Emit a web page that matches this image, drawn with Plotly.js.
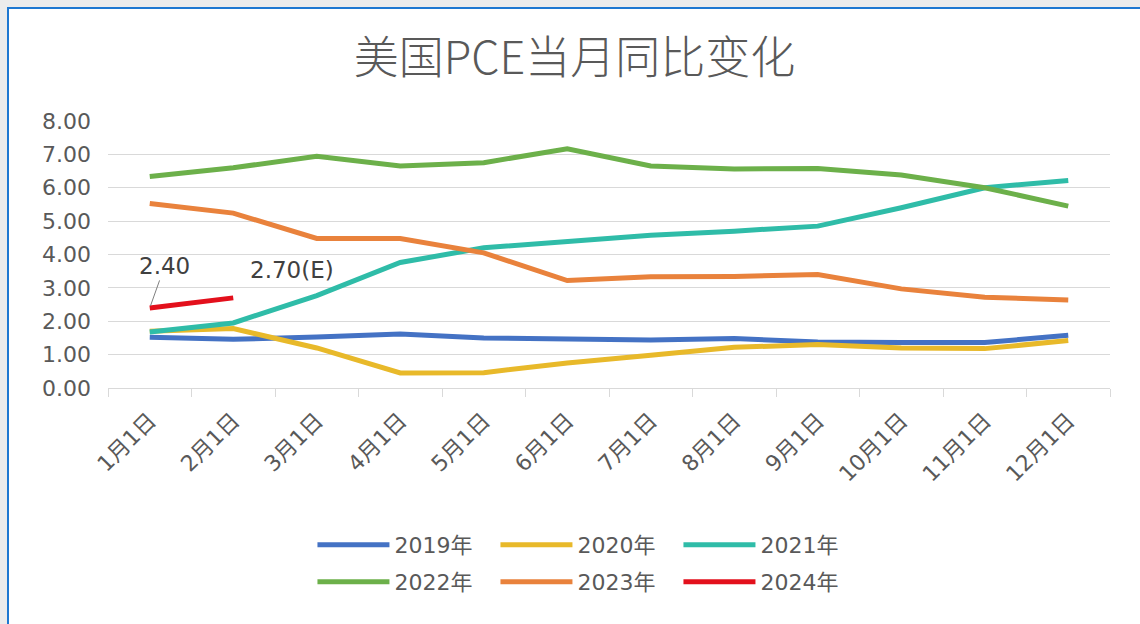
<!DOCTYPE html>
<html>
<head>
<meta charset="utf-8">
<script src="https://cdn.plot.ly/plotly-3.0.1.min.js"></script>
<style>
  html, body { margin: 0; padding: 0; background: #ececec; }
  #frame {
    position: absolute; left: 7px; top: 7px; width: 1131px; height: 615px;
    border-left: 2px solid #1f78d1; border-top: 2px solid #1f78d1; background: #fff;
  }
  #pce { width: 1131px; height: 615px; }
</style>
</head>
<body>
<div id="frame"><div id="pce"></div></div>
<script>
// months on the x axis
const months = ['1月1日', '2月1日', '3月1日', '4月1日', '5月1日', '6月1日',
                '7月1日', '8月1日', '9月1日', '10月1日', '11月1日', '12月1日'];

// PCE year-on-year, %
const pce2019 = [1.52, 1.46, 1.53, 1.62, 1.50, 1.46, 1.44, 1.48, 1.38, 1.36, 1.36, 1.58];
const pce2020 = [1.70, 1.78, 1.20, 0.45, 0.46, 0.75, 0.98, 1.22, 1.30, 1.20, 1.18, 1.42];
const pce2021 = [1.68, 1.95, 2.77, 3.76, 4.20, 4.40, 4.58, 4.70, 4.85, 5.40, 6.00, 6.22];
const pce2022 = [6.34, 6.60, 6.94, 6.65, 6.75, 7.17, 6.65, 6.56, 6.58, 6.38, 6.00, 5.45];
const pce2023 = [5.53, 5.24, 4.48, 4.48, 4.05, 3.22, 3.33, 3.34, 3.40, 2.97, 2.72, 2.64];
const pce2024 = [2.40, 2.70];

const seriesNames = ['2019年', '2020年', '2021年', '2022年', '2023年', '2024年'];
const seriesData = [pce2019, pce2020, pce2021, pce2022, pce2023, pce2024];
const seriesColors = ['#4472c4', '#e8b92a', '#2fbca8', '#6cb04a', '#e9823c', '#e3101c'];

const gray = '#595959';
const numFont = 'DejaVu Sans, Noto Sans CJK SC, sans-serif';

const traces = seriesData.map((vals, i) => ({
    x: months.slice(0, vals.length),
    y: vals,
    name: seriesNames[i],
    type: 'scatter',
    mode: 'lines',
    line: { color: seriesColors[i], width: 5 },
    legend: i < 3 ? 'legend' : 'legend2',
    hoverinfo: 'x+y+name'
}));

// legend rows sit below the plot area, y is relative to it (plot is 267px tall)
const legendBase = {
    orientation: 'h',
    x: 0.478,
    xanchor: 'center',
    yanchor: 'middle',
    entrywidth: 96,
    itemwidth: 72,
    font: { family: numFont, size: 22, color: gray },
    bgcolor: 'rgba(0,0,0,0)'
};

Plotly.newPlot('pce', traces, {
    width: 1131,
    height: 615,
    margin: { l: 99, r: 30, t: 112, b: 236 },
    paper_bgcolor: '#ffffff',
    plot_bgcolor: '#ffffff',
    title: {
        text: '美国PCE当月同比变化',
        x: 0.5,
        xanchor: 'center',
        y: 1 - 49 / 615,
        yanchor: 'middle',
        font: { family: 'Noto Sans CJK SC, sans-serif', size: 45, color: gray, weight: 300 }
    },
    xaxis: {
        type: 'category',
        tickson: 'boundaries',
        ticks: 'outside',
        ticklen: 8,
        tickcolor: '#d9d9d9',
        showline: true,
        linecolor: '#d9d9d9',
        linewidth: 1,
        showgrid: false,
        tickangle: -45,
        ticklabelstandoff: 10,
        tickfont: { family: numFont, size: 22, color: gray },
        range: [-0.5, 11.5]
    },
    yaxis: {
        range: [0, 8],
        dtick: 1,
        tickformat: '.2f',
        showgrid: true,
        gridcolor: '#d9d9d9',
        gridwidth: 1,
        zeroline: false,
        showline: false,
        ticklabelstandoff: 16,
        tickfont: { family: numFont, size: 22, color: gray }
    },
    legend: Object.assign({}, legendBase, { y: (379 - 536) / 267 }),
    legend2: Object.assign({}, legendBase, { y: (379 - 573) / 267 }),
    annotations: [
        {
            x: months[0], y: pce2024[0], xref: 'x', yref: 'y',
            text: pce2024[0].toFixed(2),
            showarrow: true, arrowhead: 0, arrowwidth: 1, arrowcolor: '#7f7f7f',
            ax: 15, ay: -42, standoff: 2,
            font: { family: numFont, size: 23, color: '#404040' }
        },
        {
            x: months[1], y: pce2024[1], xref: 'x', yref: 'y',
            text: pce2024[1].toFixed(2) + '(E)',
            showarrow: false, xshift: 59, yshift: 28,
            font: { family: numFont, size: 23, color: '#404040' }
        }
    ]
}, { displayModeBar: false, responsive: false });
</script>
</body>
</html>
